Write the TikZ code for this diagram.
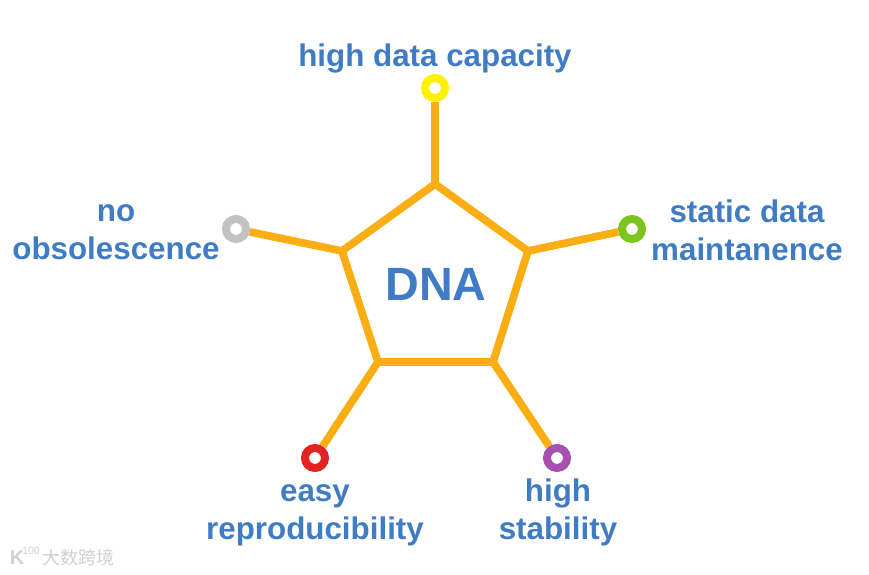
\documentclass[tikz,border=0pt]{standalone}
\usepackage{fontspec}
\setmainfont{Liberation Sans}
\newfontfamily\cjk{Noto Sans CJK SC}
\definecolor{armc}{HTML}{FBAE14}
\definecolor{textc}{HTML}{3F7CC4}
\definecolor{limec}{HTML}{7CC51F}
\definecolor{purplec}{HTML}{A850AE}
\definecolor{redc}{HTML}{E32222}
\definecolor{greyc}{HTML}{C2C2C2}
\definecolor{yellowc}{HTML}{FFF200}
\begin{document}
\begin{tikzpicture}[
        x=0.75pt, y=-0.75pt,
        label/.style={text=textc, font=\bfseries\fontsize{23.5}{28.5}\selectfont, align=center, inner sep=0pt},
        title/.style={text=textc, font=\bfseries\fontsize{35}{38}\selectfont, inner sep=0pt},
        ring/.style={draw=#1, circle, line width=6pt, minimum size=15pt, inner sep=0pt, fill=white},
        arm/.style={draw=armc, line width=5.8pt},
        mark text/.style={text=black!18, font=\cjk\fontsize{13.5}{14}\selectfont, inner sep=0pt},
    ]
    \useasboundingbox (0,0) rectangle (869,575);
    \coordinate (top) at (435,184);
    \coordinate (right) at (528,251);
    \coordinate (lowr) at (493,362);
    \coordinate (lowl) at (378,362);
    \coordinate (left) at (342,251);
    \draw[arm, line join=miter] (top) -- (right) -- (lowr) -- (lowl) -- (left) -- cycle;
    \node[ring=yellowc](capacity) at (435,88){};
    \node[ring=limec](static) at (632,229){};
    \node[ring=purplec](stable) at (557,458){};
    \node[ring=redc](easy) at (315,458){};
    \node[ring=greyc](obsolete) at (236,229){};
    \draw[arm] (top) -- (capacity);
    \draw[arm] (right) -- (static);
    \draw[arm] (lowr) -- (stable);
    \draw[arm] (lowl) -- (easy);
    \draw[arm] (left) -- (obsolete);
    \node[title](dna) at (436,284){DNA};
    \node[label](capacityl) at (435,58){high data capacity};
    \node[label](staticl) at (747,230){static data\\maintanence};
    \node[label](stablel) at (558,512){high\\stability};
    \node[label](easyl) at (315,515){easy\\reproducibility};
    \node[label](obsoletel) at (116,232){no\\obsolescence};
    \node[mark text](markl) at (78,558){大数跨境};
    \node[text=black!18, font=\bfseries\fontsize{15}{15}\selectfont, inner sep=0pt](markk) at (17,558){K};
    \node[text=black!18, font=\fontsize{8}{8}\selectfont, inner sep=0pt](markn) at (31,551){100};
\end{tikzpicture}
\end{document}
